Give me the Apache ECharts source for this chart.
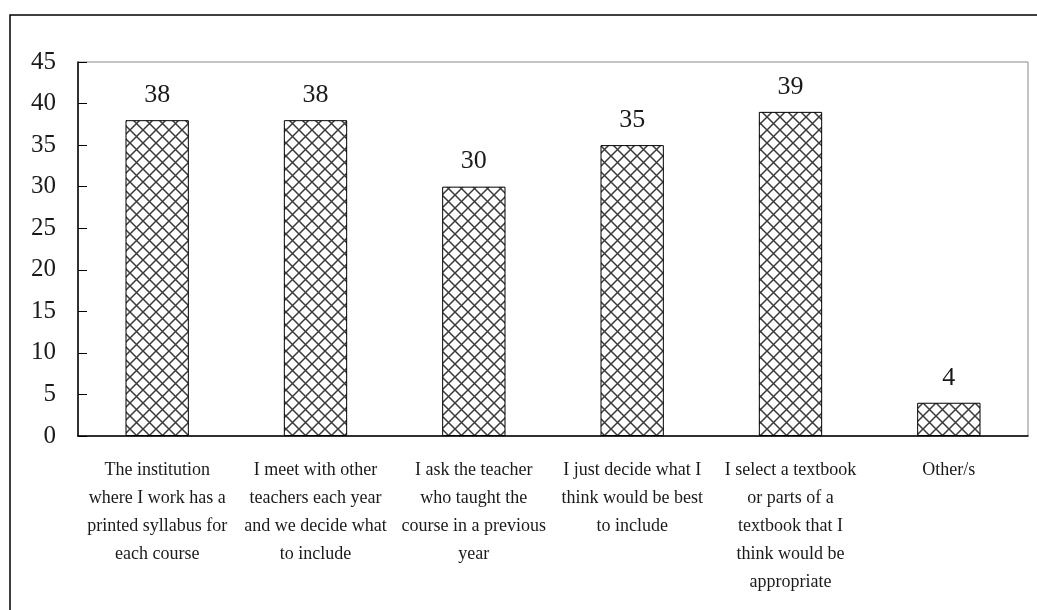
<!DOCTYPE html>
<html>
<head>
<meta charset="utf-8">
<script src="https://cdn.jsdelivr.net/npm/echarts@6/dist/echarts.min.js"></script>
<style>
  html, body { margin: 0; padding: 0; background: #fff; }
  #chart { width: 1037px; height: 610px; }
</style>
</head>
<body>
<div id="chart"></div>
<script>
// data
const categories = [
  'The institution\nwhere I work has a\nprinted syllabus for\neach course',
  'I meet with other\nteachers each year\nand we decide what\nto include',
  'I ask the teacher\nwho taught the\ncourse in a previous\nyear',
  'I just decide what I\nthink would be best\nto include',
  'I select a textbook\nor parts of a\ntextbook that I\nthink would be\nappropriate',
  'Other/s'
]
const values = [38, 38, 30, 35, 39, 4]
const yTicks = { min: 0, max: 45, interval: 5 }

// cross-hatch fill tile
function hatchTile() {
  const s = 13
  const c = document.createElement('canvas')
  c.width = s
  c.height = s
  const ctx = c.getContext('2d')
  ctx.fillStyle = '#fff'
  ctx.fillRect(0, 0, s, s)
  ctx.strokeStyle = '#3a3a3a'
  ctx.lineWidth = 1.5
  ctx.beginPath()
  ctx.moveTo(0, 0); ctx.lineTo(s, s)
  ctx.moveTo(s, 0); ctx.lineTo(0, s)
  ctx.stroke()
  return c
}

const font = '"Liberation Serif", "Times New Roman", serif'
const chart = echarts.init(document.getElementById('chart'))
chart.setOption({
  animation: false,
  graphic: [{
    type: 'rect',
    shape: { x: 10, y: 15, width: 1100, height: 700 },
    style: { fill: 'none', stroke: '#000', lineWidth: 1.5 },
    silent: true
  }],
  grid: {
    left: 78, top: 62, right: 9, bottom: 174,
    show: true, borderColor: '#888', borderWidth: 1, backgroundColor: 'transparent'
  },
  xAxis: {
    type: 'category',
    data: categories,
    axisLine: { lineStyle: { color: '#000', width: 1.5 } },
    axisTick: { inside: true, length: 6, lineStyle: { color: '#000' } },
    axisLabel: {
      interval: 0, color: '#1a1a1a', fontFamily: font, fontSize: 18,
      lineHeight: 28, margin: 20
    }
  },
  yAxis: {
    type: 'value',
    min: yTicks.min, max: yTicks.max, interval: yTicks.interval,
    axisLine: { show: true, lineStyle: { color: '#000', width: 1.5 } },
    axisTick: { show: true, inside: true, length: 9, lineStyle: { color: '#000' } },
    splitLine: { show: false },
    axisLabel: {
      color: '#1a1a1a', fontFamily: font, fontSize: 25, margin: 22,
      padding: [6, 0, 0, 0]
    }
  },
  series: [{
    type: 'bar',
    data: values,
    barWidth: '40%',
    itemStyle: {
      color: { image: hatchTile(), repeat: 'repeat' },
      borderColor: '#000', borderWidth: 1
    },
    label: {
      show: true, position: 'top', distance: 12,
      color: '#1a1a1a', fontFamily: font, fontSize: 26
    }
  }]
})
</script>
</body>
</html>
